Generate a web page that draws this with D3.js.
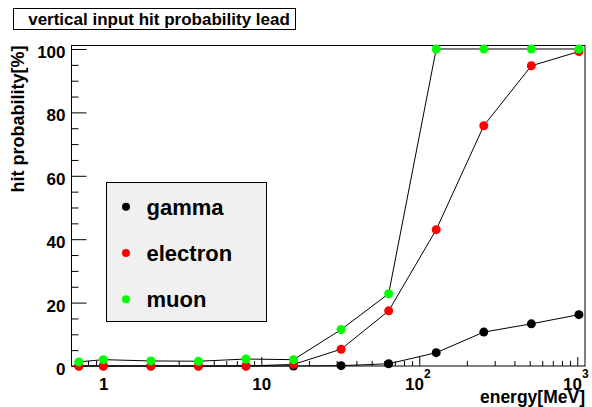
<!DOCTYPE html>
<html><head><meta charset="utf-8">
<script src="https://cdn.jsdelivr.net/npm/d3@7"></script>
<style>
body{margin:0;background:#fff}
text{font-family:"Liberation Sans",Arial,Helvetica,sans-serif;font-weight:bold;fill:#000}
</style>
</head><body>
<svg id="chart" width="592" height="407"></svg>
<script>
// Beam energy in MeV (x) and hit probability in percent (y) for each particle type
const energies = [0.7, 1, 2, 4, 8, 16, 32, 64, 128, 256, 512, 1024];
const gammaHits = [0, 0, 0, 0, 0, 0, 0.1, 0.7, 4.2, 10.7, 13.3, 16.2];
const electronHits = [0, 0, 0, 0, 0, 0.5, 5.3, 17.4, 43.0, 75.8, 94.7, 99.2];
const muonHits = [1.3, 2.0, 1.6, 1.5, 2.2, 2.0, 11.5, 22.8, 100, 100, 100, 100];
const seriesNames = ["gamma", "electron", "muon"];
const seriesColors = ["#000000", "#ff0000", "#00ff00"];
const yTickValues = [0, 20, 40, 60, 80, 100];
const xTickValues = [1, 10, 100, 1000];
const xTickBase = ["1", "10", "10", "10"];
const xTickExp = ["", "", "2", "3"];
const titleText = "vertical input hit probability lead";
const xTitle = "energy[MeV]";
const yTitle = "hit probability[%]";

const seriesValues = [gammaHits, electronHits, muonHits];

const svg = d3.select("#chart");
const frame = {left: 71.5, right: 585, top: 45.5, bottom: 366};

const x = d3.scaleLog().domain([0.629, 1119]).range([frame.left, frame.right]);
const y = d3.scaleLinear().domain([0, 101.1]).range([frame.bottom, frame.top]);

// Title box
svg.append("rect").attr("x", 13.5).attr("y", 8.5).attr("width", 282).attr("height", 21)
  .attr("fill", "#fff").attr("stroke", "#000").attr("stroke-width", 1);
svg.append("text").attr("x", 159).attr("y", 24.5).attr("text-anchor", "middle")
  .attr("font-size", 17).text(titleText);

// Frame
svg.append("rect").attr("x", frame.left).attr("y", frame.top)
  .attr("width", frame.right - frame.left).attr("height", frame.bottom - frame.top)
  .attr("fill", "none").attr("stroke", "#000").attr("stroke-width", 1);

// X axis: major decade ticks plus minor ticks at 2..9 of each decade
const xMinor = [];
for (let e = -1; e <= 3; e++) {
  for (let m = 2; m <= 9; m++) {
    const v = m * Math.pow(10, e);
    if (v > x.domain()[0] && v < x.domain()[1]) xMinor.push(v);
  }
}
svg.append("g").attr("transform", `translate(0,${frame.bottom})`)
  .call(d3.axisBottom(x).tickValues(xMinor).tickSize(-5).tickFormat(""))
  .call(g => g.select(".domain").remove());
const xMajor = svg.append("g").attr("transform", `translate(0,${frame.bottom})`)
  .call(d3.axisBottom(x).tickValues(xTickValues).tickSize(-9).tickFormat(""))
  .call(g => g.select(".domain").remove());
xMajor.selectAll(".tick line").attr("stroke", "#000");
xMajor.selectAll(".tick").each(function(d, i) {
  const t = d3.select(this).append("text").attr("y", 24).attr("font-size", 17)
    .attr("text-anchor", "middle").attr("fill", "#000")
    .attr("dx", xTickExp[i] ? -2 : 0);
  t.append("tspan").text(xTickBase[i]);
  if (xTickExp[i]) t.append("tspan").attr("dy", -12).attr("font-size", 12).text(xTickExp[i]);
});

// Y axis: labelled ticks every 20, minor ticks every 5
const yMinor = d3.range(0, 101, 5).filter(v => v % 20 !== 0);
svg.append("g").attr("transform", `translate(${frame.left},0)`)
  .call(d3.axisRight(y).tickValues(yMinor).tickSize(7).tickFormat(""))
  .call(g => g.select(".domain").remove());
const yMajor = svg.append("g").attr("transform", `translate(${frame.left},0)`)
  .call(d3.axisRight(y).tickValues(yTickValues).tickSize(15).tickFormat(d3.format("d")))
  .call(g => g.select(".domain").remove());
yMajor.selectAll(".tick line").attr("stroke", "#000");
yMajor.selectAll(".tick text").attr("x", -6).attr("dy", "0.5em")
  .attr("text-anchor", "end").attr("font-size", 17)
  .attr("font-family", null).attr("fill", "#000");
yMajor.attr("font-family", null).attr("font-size", null);
xMajor.attr("font-family", null).attr("font-size", null);

// Axis titles
svg.append("text").attr("x", frame.right).attr("y", 403).attr("text-anchor", "end")
  .attr("font-size", 17.5).text(xTitle);
svg.append("text").attr("transform", `translate(24,${frame.top}) rotate(-90)`)
  .attr("text-anchor", "end").attr("font-size", 18).text(yTitle);

// Series: connecting line then markers
const line = d3.line().x(d => x(d[0])).y(d => y(d[1]));
seriesValues.forEach((vals, s) => {
  const pts = energies.map((e, i) => [e, vals[i]]);
  svg.append("path").datum(pts).attr("d", line)
    .attr("fill", "none").attr("stroke", "#000").attr("stroke-width", 1);
  svg.append("g").selectAll("circle").data(pts).join("circle")
    .attr("cx", d => x(d[0])).attr("cy", d => y(d[1])).attr("r", 4.5)
    .attr("fill", seriesColors[s]);
});

// Legend
const legend = svg.append("g");
legend.append("rect").attr("x", 106.5).attr("y", 182.5).attr("width", 160).attr("height", 139)
  .attr("fill", "#f0f0f0").attr("stroke", "#000").attr("stroke-width", 1);
const legendY = d3.scalePoint().domain(seriesNames).range([206.7, 299.3]);
seriesNames.forEach((name, i) => {
  legend.append("circle").attr("cx", 126).attr("cy", legendY(name)).attr("r", 4)
    .attr("fill", seriesColors[i]);
  legend.append("text").attr("x", 146.5).attr("y", legendY(name) + 8)
    .attr("font-size", 22).text(name);
});
</script>
</body></html>
